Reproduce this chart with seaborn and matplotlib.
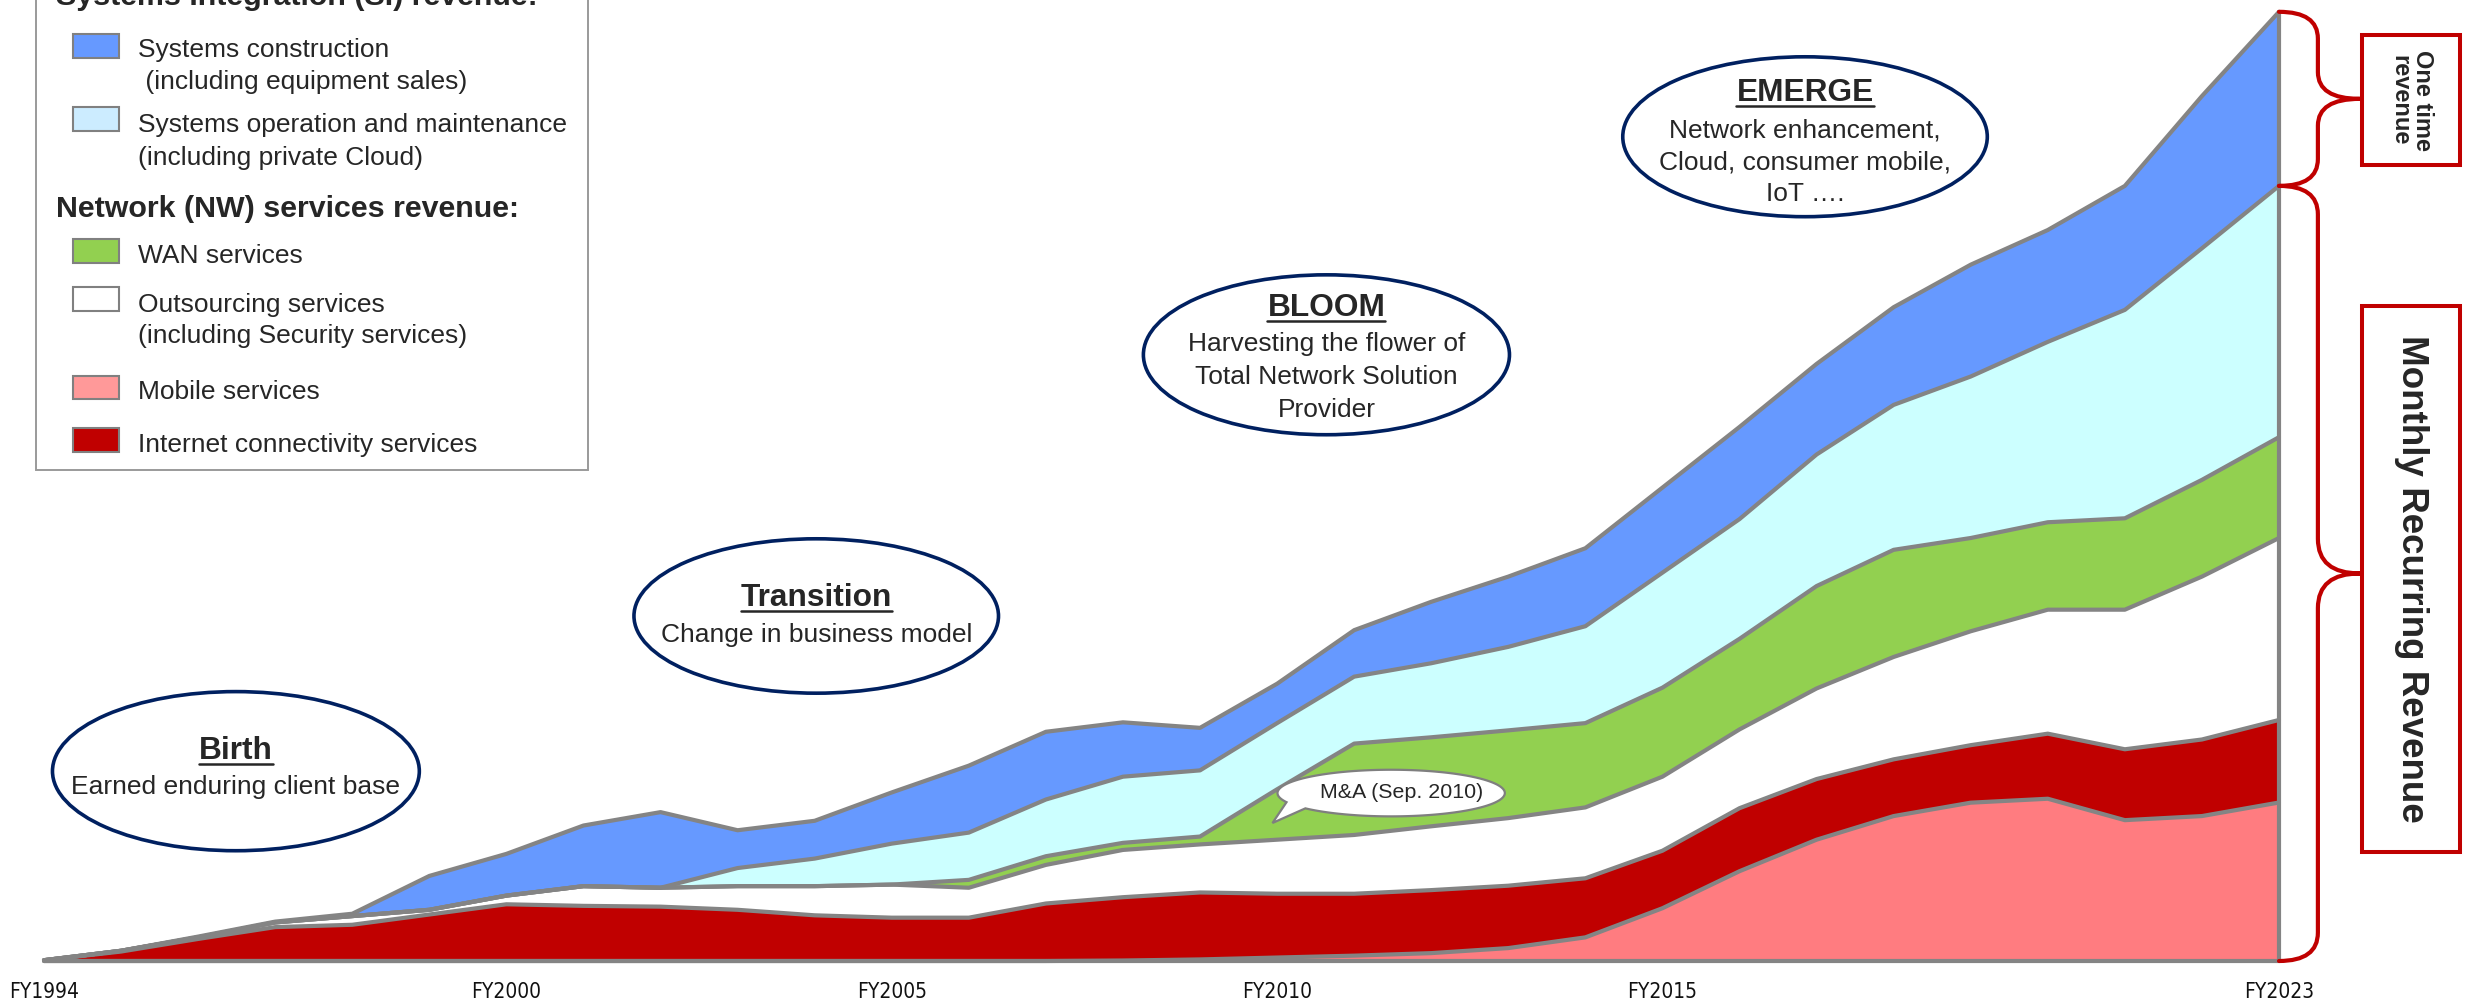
import numpy as np
import pandas as pd
import matplotlib
matplotlib.use("Agg")
import matplotlib.pyplot as plt
import seaborn as sns
from matplotlib.patches import Ellipse, Rectangle, Polygon, PathPatch
from matplotlib.path import Path
from matplotlib.lines import Line2D
from matplotlib import transforms, font_manager

# ---------------------------------------------------------------- data
years = list(range(1994, 2024))

mobile = [0, 0, 0, 0, 0, 0, 0, 0, 0, 0,
          0, 0, 0, 0, 0.3, 1.0, 2.2, 3.4, 5.0, 8.2,
          15.0, 33.5, 57.0, 77.0, 92.0, 100.5, 103.0, 89.4, 92.0, 100.6]
internet = [0.5, 6, 14, 21.5, 23, 29.5, 36, 35, 34.5, 32.5,
            29, 27.5, 27.5, 36.5, 40.2, 42.5, 40.5, 39.3, 40, 39.6,
            37.5, 36.5, 40, 38.5, 36, 36.5, 41.3, 45, 48.6, 52.4]
outsourcing = [0, 0.5, 1, 3, 5.5, 3, 5.5, 12.5, 12, 15,
               18.5, 21, 19, 24.5, 30, 30.5, 34.3, 37.3, 40.5, 42.9,
               45, 47, 50, 57.5, 65, 72.3, 78.7, 88.6, 103.4, 115.5]
wan = [0, 0, 0, 0, 0, 0, 0, 0, 0, 0,
       0, 0, 5, 5.5, 4.5, 5, 32, 58, 56.5, 55.7,
       53.5, 56.5, 57.5, 65, 68, 59.2, 55.5, 58, 61.4, 64]
operation = [0, 0, 0, 0, 0, 0, 0, 0, 0, 11.5,
             17.5, 26, 30, 36, 42, 42, 42, 42.5, 47, 53,
             61.5, 73, 76, 83.5, 92, 102.5, 114.5, 132.3, 147, 159.5]
construction = [0, 0, 0.5, 0.5, 1.5, 21.5, 26.5, 38.5, 48, 24,
                24, 32.5, 42.5, 43, 34.5, 27, 25, 29.5, 39, 44.6,
                49.5, 54, 58.5, 57.5, 62, 71, 71, 78.7, 96.6, 110.5]

tick_years = [1994, 2000, 2005, 2010, 2015, 2023]
tick_labels = [f"FY{y}" for y in tick_years]

layer_names = ["Mobile services", "Internet connectivity services",
               "Outsourcing services", "WAN services",
               "Systems operation and maintenance", "Systems construction"]
layer_colors = ["#FF7C80", "#C00000", "#FFFFFF", "#92D050", "#CCFFFF", "#6699FF"]

phases = [
    # title, lines, centre year, centre level, width (years), height
    ("Birth", ["Earned enduring client base"], 1996.49, 120.5, 4.76, 101),
    ("Transition", ["Change in business model"], 2004.02, 219.0, 4.73, 98),
    ("BLOOM", ["Harvesting the flower of", "Total Network Solution", "Provider"],
     2010.64, 384.8, 4.75, 101.5),
    ("EMERGE", ["Network enhancement,", "Cloud, consumer mobile,", "IoT …."],
     2016.85, 523.2, 4.73, 101.5),
]
phase_title_base = [128.0, 225.3, 409.2, 545.8]
phase_line_base = [[106.0], [202.2], [387.5, 366.5, 345.5], [523.0, 502.5, 482.4]]

# ---------------------------------------------------------------- style
sns.set_theme(style="white")
plt.rcParams["font.family"] = ["Liberation Sans", "DejaVu Sans"]
TXT = "#262626"
EDGE = "#848484"
NAVY = "#002060"
RED = "#C00000"


def condensed_font():
    """Pick a narrow/condensed regular face for the year labels if one exists."""
    entries = font_manager.fontManager.ttflist
    for pred in (
        lambda f: f.name == "Liberation Sans Narrow",
        lambda f: f.name.startswith("DejaVu Sans") and "ondensed" in str(f.stretch) + f.fname,
        lambda f: "Narrow" in f.name or "Condensed" in f.name,
    ):
        for f in entries:
            if pred(f) and f.style == "normal" and f.weight in (400, "normal", "regular", "book"):
                return f
    return None


cfont = condensed_font()
if cfont is not None:
    tick_prop = font_manager.FontProperties(fname=cfont.fname,
                                            size=16.5 if "Liberation" in cfont.name else 15.0)
else:
    tick_prop = font_manager.FontProperties(family="Liberation Sans", size=14.8)

W, H = 2471, 1001
fig = plt.figure(figsize=(W / 100, H / 100), dpi=100)
fig.patch.set_facecolor("white")


def fx(px):
    return px / W


def fy(py):
    return 1 - py / H


ax = fig.add_axes([fx(44), fy(961), fx(2279) - fx(44), 961 / H])
ax.set_facecolor("none")

# ---------------------------------------------------------------- stacked areas
layers = np.vstack([mobile, internet, outsourcing, wan, operation, construction])
ax.stackplot(years, layers, colors=layer_colors, linewidth=0, zorder=1)
cum = np.cumsum(layers, axis=0)

rows = []
edges = [np.zeros(len(years))] + [cum[i] for i in range(len(layer_names))]
for i, lvl in enumerate(edges):
    for yr, v in zip(years, lvl):
        rows.append((f"edge{i}", yr, v))
edge_df = pd.DataFrame(rows, columns=["edge", "year", "level"])
sns.lineplot(data=edge_df, x="year", y="level", units="edge", estimator=None,
             color=EDGE, linewidth=3.0, ax=ax, legend=False, zorder=3)
ax.plot([years[-1], years[-1]], [0, cum[-1][-1]], color=EDGE, lw=3.0, zorder=3)
for ln in ax.lines:
    ln.set_clip_on(False)
    ln.set_solid_joinstyle("round")
    ln.set_solid_capstyle("round")

ax.set_xlim(years[0], years[-1])
ax.set_ylim(0, 610)
ax.set_xlabel("")
ax.set_ylabel("")
ax.set_yticks([])
for s in ax.spines.values():
    s.set_visible(False)
ax.set_xticks(tick_years, tick_labels)
ax.tick_params(axis="x", length=0, pad=15)
for lab in ax.get_xticklabels():
    lab.set_fontproperties(tick_prop)
    lab.set_color("#111111")

# ---------------------------------------------------------------- phase bubbles
title_artists = []
for (title, lines, cx, cy, w, h), tb, lbs in zip(phases, phase_title_base, phase_line_base):
    ax.add_patch(Ellipse((cx, cy), w, h, facecolor="white", edgecolor=NAVY,
                         lw=2.6, zorder=6, clip_on=False))
    t = ax.text(cx, tb, title, ha="center", va="baseline", fontsize=22.8,
                fontweight="bold", color=TXT, zorder=7)
    title_artists.append(t)
    for line, lb in zip(lines, lbs):
        ax.text(cx, lb, line, ha="center", va="baseline", fontsize=19,
                color=TXT, zorder=7)

# ---------------------------------------------------------------- M&A callout
mx, my, ma, mb = 2011.48, 106.6, 1.475, 14.8
ang = np.linspace(np.deg2rad(221), np.deg2rad(203 + 360), 240)
bubble = np.column_stack([mx + ma * np.cos(ang), my + mb * np.sin(ang)])
bubble = np.vstack([bubble, [[2009.94, 87.6]]])
ax.add_patch(Polygon(bubble, closed=True, facecolor="white", edgecolor="#7F7F7F",
                     lw=1.6, zorder=6))
ax.text(2011.62, 106.8, "M&A (Sep. 2010)", ha="center", va="center",
        fontsize=15.4, color=TXT, zorder=7)

# ---------------------------------------------------------------- braces on the right
bt = transforms.blended_transform_factory(ax.transAxes, ax.transData)


def brace(y0, y1, x0=1.0, x1=1.0174, x2=1.0362, r_end=18, r_tip=20):
    ym = (y0 + y1) / 2
    verts = [(x0, y1), (x1, y1), (x1, y1 - r_end), (x1, ym + r_tip),
             (x1, ym), (x2, ym), (x1, ym), (x1, ym - r_tip),
             (x1, y0 + r_end), (x1, y0), (x0, y0)]
    codes = [Path.MOVETO, Path.CURVE3, Path.CURVE3, Path.LINETO,
             Path.CURVE3, Path.CURVE3, Path.CURVE3, Path.CURVE3,
             Path.LINETO, Path.CURVE3, Path.CURVE3]
    ax.add_patch(PathPatch(Path(verts, codes), transform=bt, fill=False,
                           edgecolor=RED, lw=3.0, clip_on=False, zorder=4,
                           capstyle="round", joinstyle="round"))


total_end = cum[-1][-1]
recurring_end = cum[-2][-1]
brace(recurring_end, total_end, r_end=17, r_tip=17)
brace(0, recurring_end, r_end=18, r_tip=22)

fig.patches.append(Rectangle((fx(2362), fy(165)), fx(2460) - fx(2362), (165 - 35) / H,
                             transform=fig.transFigure, facecolor="white",
                             edgecolor=RED, lw=2.9))
fig.patches.append(Rectangle((fx(2362), fy(852)), fx(2460) - fx(2362), (852 - 306) / H,
                             transform=fig.transFigure, facecolor="white",
                             edgecolor=RED, lw=2.9))
fig.text(fx(2411), fy(100), "One time\nrevenue", rotation=-90, ha="center",
         va="center", multialignment="center", fontsize=17, fontweight="bold",
         color=TXT, linespacing=1.0)
fig.text(fx(2411), fy(579), "Monthly Recurring Revenue", rotation=-90, ha="center",
         va="center", fontsize=26.5, fontweight="bold", color=TXT)

# ---------------------------------------------------------------- legend panel
fig.patches.append(Rectangle((fx(35.6), fy(470)), fx(588) - fx(35.6), (470 + 60) / H,
                             transform=fig.transFigure, facecolor="white",
                             edgecolor="#9A9A9A", lw=1.4, zorder=0.5))
fig.text(fx(56), fy(5), "Systems Integration (SI) revenue:", fontsize=21.9,
         fontweight="bold", color=TXT, va="baseline")
fig.text(fx(56), fy(217.3), "Network (NW) services revenue:", fontsize=21.9,
         fontweight="bold", color=TXT, va="baseline")

legend_swatches = ["#6699FF", "#CCECFF", "#92D050", "#FFFFFF", "#FF9999", "#C00000"]
legend_lines = [
    ["Systems construction", " (including equipment sales)"],
    ["Systems operation and maintenance", "(including private Cloud)"],
    ["WAN services"],
    ["Outsourcing services", "(including Security services)"],
    ["Mobile services"],
    ["Internet connectivity services"],
]
swatch_top = [34.3, 107.3, 239.0, 287.3, 375.7, 428.0]
text_base = [[56.7, 89.5], [131.7, 164.5], [263.3], [311.7, 343.3], [399.3], [451.7]]
for col, lines, top, bases in zip(legend_swatches, legend_lines, swatch_top, text_base):
    fig.patches.append(Rectangle((fx(73), fy(top + 23.5)), fx(119) - fx(73), 23.5 / H,
                                 transform=fig.transFigure, facecolor=col,
                                 edgecolor="#808080", lw=1.5))
    for line, b in zip(lines, bases):
        fig.text(fx(138), fy(b), line, fontsize=19, color=TXT, va="baseline")

# ---------------------------------------------------------------- underline phase titles
fig.canvas.draw()
renderer = fig.canvas.get_renderer()
inv = fig.transFigure.inverted()
for t in title_artists:
    bb = t.get_window_extent(renderer)
    _, ybase = ax.transData.transform(t.get_position())
    (ax0, ay0), (ax1, _) = inv.transform([(bb.x0, ybase - 4.5), (bb.x1, ybase - 4.5)])
    fig.add_artist(Line2D([ax0, ax1], [ay0, ay0], transform=fig.transFigure,
                          color=TXT, lw=1.8, zorder=8))

fig.savefig("out.png", dpi=100, facecolor="white")
